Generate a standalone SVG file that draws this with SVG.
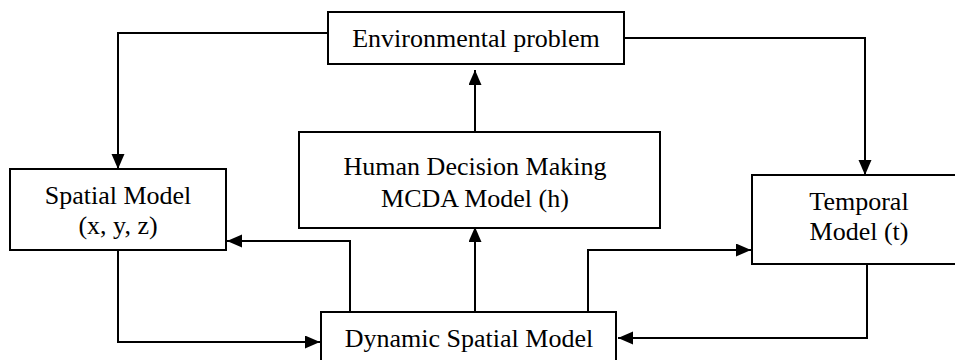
<svg xmlns="http://www.w3.org/2000/svg" width="955" height="360" viewBox="0 0 955 360">
<style>
.box{fill:#fff;stroke:#000;stroke-width:2}
.lbl{font-family:"Liberation Serif","Times New Roman",serif;font-size:26px;fill:#000;text-anchor:middle}
.con{fill:none;stroke:#000;stroke-width:2}
</style>
<defs>
<marker id="ah" markerUnits="userSpaceOnUse" markerWidth="16" markerHeight="14" refX="15" refY="6.5" orient="auto">
<path d="M0,0 L15,6.5 L0,13 z" fill="#000"/>
</marker>
</defs>
<rect width="955" height="360" fill="#fff"/>
<g id="connectors">
<polyline class="con" points="328,33 118,33 118,169" marker-end="url(#ah)"/>
<polyline class="con" points="624,38 865,38 865,175" marker-end="url(#ah)"/>
<polyline class="con" points="475,132 475,70" marker-end="url(#ah)"/>
<polyline class="con" points="350,312 350,241 227,241" marker-end="url(#ah)"/>
<polyline class="con" points="118,250 118,342 320,342" marker-end="url(#ah)"/>
<polyline class="con" points="475,312 475,227" marker-end="url(#ah)"/>
<polyline class="con" points="588,315 588,250 751,250" marker-end="url(#ah)"/>
<polyline class="con" points="867,264 867,338 618,338" marker-end="url(#ah)"/>
</g>
<g id="env">
<rect class="box" x="328" y="12" width="296" height="52"/>
<text class="lbl" x="476" y="47">Environmental problem</text>
</g>
<g id="human">
<rect class="box" x="299" y="132" width="361" height="96"/>
<text class="lbl" x="475" y="175">Human Decision Making</text>
<text class="lbl" x="475" y="207">MCDA Model (h)</text>
</g>
<g id="spatial">
<rect class="box" x="10" y="169" width="216" height="81"/>
<text class="lbl" x="118" y="204">Spatial Model</text>
<text class="lbl" x="118" y="234">(x, y, z)</text>
</g>
<g id="temporal">
<rect class="box" x="752" y="175" width="210" height="89"/>
<text class="lbl" x="859" y="210">Temporal</text>
<text class="lbl" x="859" y="240">Model (t)</text>
</g>
<g id="dynamic">
<rect class="box" x="321" y="312" width="295" height="60"/>
<text class="lbl" x="469" y="347">Dynamic Spatial Model</text>
</g>
</svg>
